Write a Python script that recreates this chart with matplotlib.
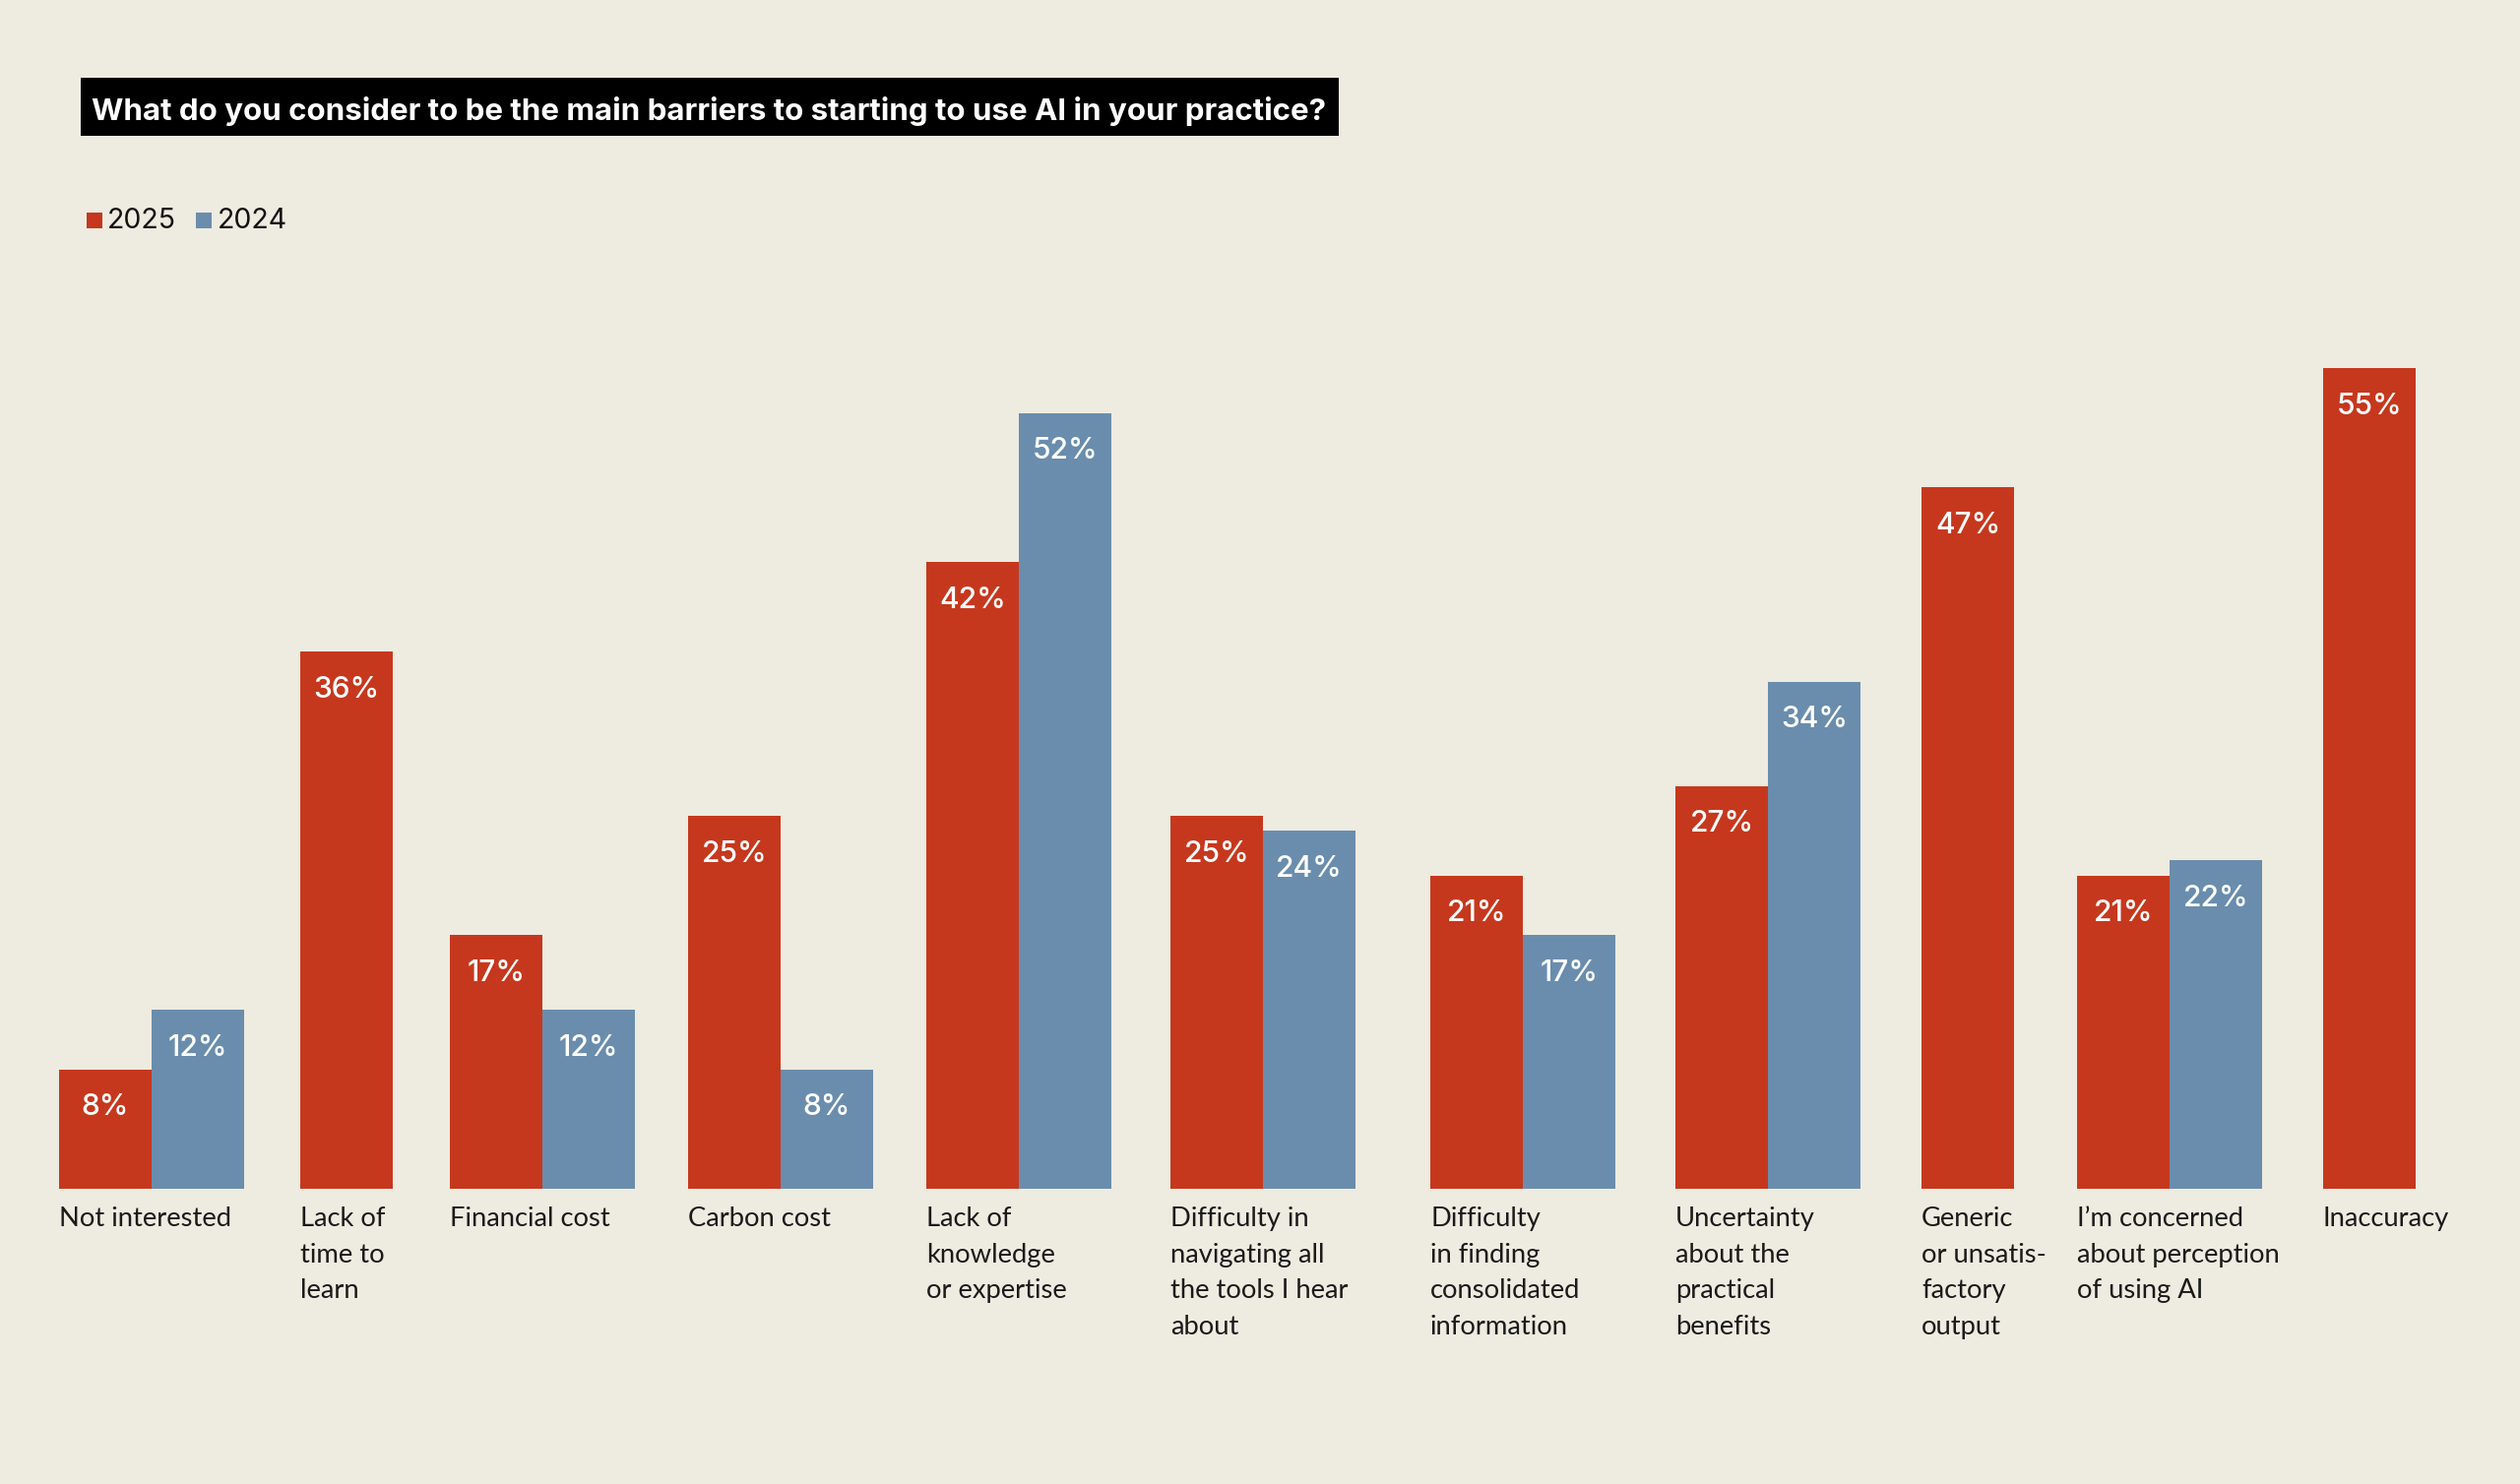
import numpy as np
import matplotlib
matplotlib.use("Agg")
from matplotlib import pyplot as plt
from matplotlib.patches import Rectangle

# survey data
categories = [
    "Not interested",
    "Lack of\ntime to\nlearn",
    "Financial cost",
    "Carbon cost",
    "Lack of\nknowledge\nor expertise",
    "Difficulty in\nnavigating all\nthe tools I hear\nabout",
    "Difficulty\nin finding\nconsolidated\ninformation",
    "Uncertainty\nabout the\npractical\nbenefits",
    "Generic\nor unsatis-\nfactory\noutput",
    "I\u2019m concerned\nabout perception\nof using AI",
    "Inaccuracy",
]
values_2025 = [8, 36, 17, 25, 42, 25, 21, 27, 47, 21, 55]
values_2024 = [12, None, 12, 8, 52, 24, 17, 34, None, 22, None]

TITLE = "What do you consider to be the main barriers to starting to use AI in your practice?"

RED = "#C6381E"
BLUE = "#6A8DAD"
BG = "#EEEBE0"

W, H = 2560, 1508
DPI = 100
BASE_Y = 1208          # pixel row of the bar baseline
PX_PER_PCT = 15.16     # bar height scale
BAR_W = 94
FIRST_X = 60
GAPS = [57, 58, 54, 54, 60, 76, 61, 62, 64, 62]
LINE_H = 36.7          # label line height in px


def fx(x):
    return x / W


def fy(y):
    return 1 - y / H


fig = plt.figure(figsize=(W / DPI, H / DPI), dpi=DPI, facecolor=BG)
bottom = fy(BASE_Y)
ax = fig.add_axes([0, bottom, 1, 1 - bottom])
ax.set_facecolor(BG)
ax.set_xlim(0, W)
ax.set_ylim(0, BASE_Y / PX_PER_PCT)
ax.axis("off")

# group positions
lefts = []
x = FIRST_X
for i, v24 in enumerate(values_2024):
    lefts.append(x)
    n = 1 if v24 is None else 2
    if i < len(GAPS):
        x += n * BAR_W + GAPS[i]

lefts = np.array(lefts, dtype=float)
label_kw = dict(color="white", ha="center", va="baseline",
                fontsize=21.5, family=["Inter", "DejaVu Sans"], fontweight="medium")
off = 46.5 / PX_PER_PCT

ax.bar(lefts, values_2025, width=BAR_W, align="edge", color=RED, linewidth=0)
for xl, v in zip(lefts, values_2025):
    ax.text(xl + BAR_W / 2, v - off, f"{v}%", **label_kw)

idx = [i for i, v in enumerate(values_2024) if v is not None]
v24 = [values_2024[i] for i in idx]
ax.bar(lefts[idx] + BAR_W, v24, width=BAR_W, align="edge", color=BLUE, linewidth=0)
for i, v in zip(idx, v24):
    ax.text(lefts[i] + BAR_W * 1.5, v - off, f"{v}%", **label_kw)

# category labels below the bars, one line at a time
for xl, cat in zip(lefts, categories):
    for k, line in enumerate(cat.split("\n")):
        ax.text(xl, -(38 + k * LINE_H) / PX_PER_PCT, line, ha="left", va="baseline",
                fontsize=19.7, family=["Lato", "DejaVu Sans"], color="#1a1a1a",
                clip_on=False)

# title box
fig.patches.append(Rectangle((fx(82), fy(138)), fx(1360) - fx(82), fy(79) - fy(138),
                             transform=fig.transFigure, facecolor="black",
                             edgecolor="none", zorder=0))
fig.text(fx(93), fy(122), TITLE, color="white", fontsize=22.5,
         family=["Inter", "DejaVu Sans"], fontweight="bold", va="baseline", ha="left")

# legend
for sx, tx, col, lab in [(88, 109, RED, "2025"), (199, 221, BLUE, "2024")]:
    fig.patches.append(Rectangle((fx(sx), fy(232)), fx(16), fy(216) - fy(232),
                                 transform=fig.transFigure, facecolor=col,
                                 edgecolor="none"))
    fig.text(fx(tx), fy(232), lab, color="#111111", fontsize=20.5,
             family=["Inter", "DejaVu Sans"], va="baseline", ha="left")

fig.savefig("out.png", dpi=DPI, facecolor=BG)
